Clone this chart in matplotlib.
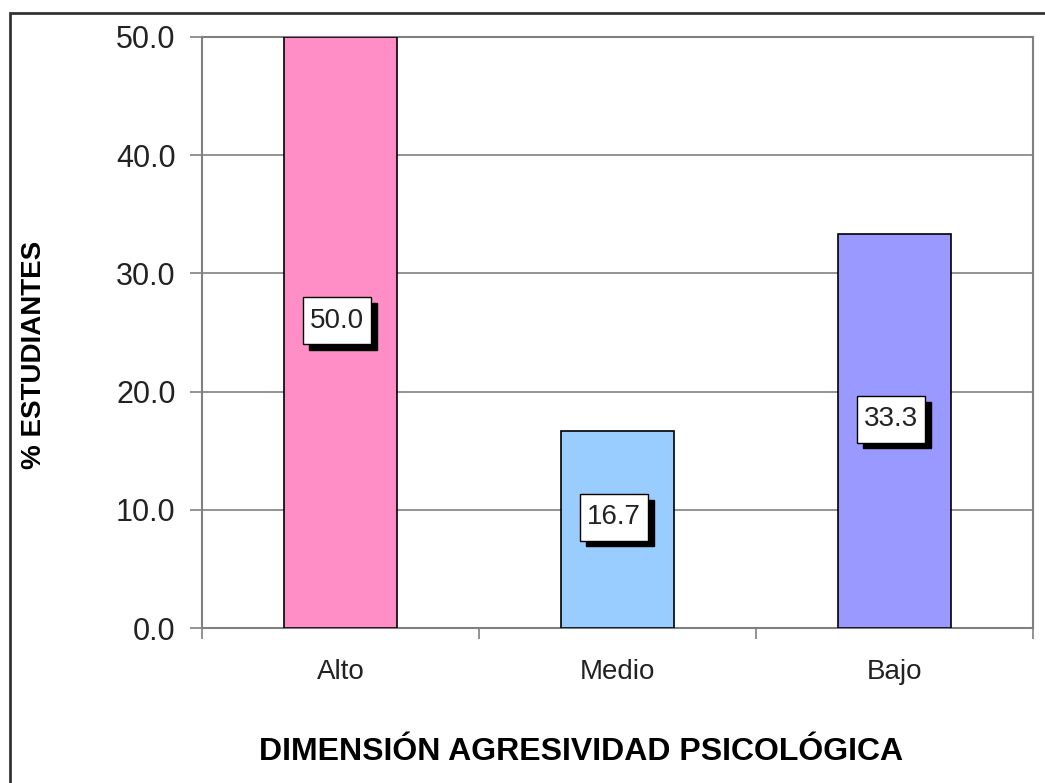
import numpy as np
import matplotlib.pyplot as plt
from matplotlib.patches import Rectangle
from matplotlib.ticker import FixedLocator

categorias = ["Alto", "Medio", "Bajo"]
porcentajes = [50.0, 16.7, 33.3]
colores = ["#FF8EC6", "#99CCFF", "#9999FF"]

plt.rcParams["font.family"] = ["Liberation Sans", "DejaVu Sans"]

fig = plt.figure(figsize=(10.45, 7.83), dpi=100)
ax = fig.add_axes([202 / 1045, 1 - 628 / 783, (1033 - 202) / 1045, (628 - 37) / 783])

# marco exterior del grafico
fig.patches.append(Rectangle((10 / 1045, -0.1), 1.2, 1 - 13 / 783 + 0.1,
                             transform=fig.transFigure, fill=False,
                             edgecolor="#333333", linewidth=2.0))

x = np.arange(len(categorias))
ax.bar(x, porcentajes, width=0.41, color=colores, edgecolor="black",
       linewidth=1.2, zorder=3)

for xi, val in zip(x, porcentajes):
    pos = (xi - 0.012, val / 2 + 1.0)
    caja = dict(boxstyle="square,pad=0.25", mutation_aspect=1.5)
    # sombra
    ax.annotate(f"{val:.1f}", pos, xytext=(4, -4), textcoords="offset points",
                ha="center", va="center", fontsize=20, color="black", zorder=6,
                bbox=dict(caja, fc="black", ec="black"))
    ax.annotate(f"{val:.1f}", pos, ha="center", va="center",
                fontsize=20, color="#222222", zorder=7,
                bbox=dict(caja, fc="white", ec="black", lw=1))

ax.set_xlim(-0.5, 2.5)
ax.set_ylim(0, 50)
ax.set_yticks(np.arange(0, 51, 10))
ax.set_yticklabels([f"{v:.1f}" for v in np.arange(0, 51, 10)], fontsize=22, color="#222222")
ax.yaxis.grid(True, color="#808080", linewidth=1.2, zorder=0)

ax.set_xticks(x)
ax.set_xticklabels(categorias, fontsize=20, color="#222222")
ax.xaxis.set_minor_locator(FixedLocator([-0.5, 0.5, 1.5, 2.5]))
ax.tick_params(axis="x", which="major", length=0, pad=22)
ax.tick_params(axis="x", which="minor", length=8, color="#808080", width=1.2)
ax.tick_params(axis="y", length=9, color="#808080", width=1.2, pad=10)

for s in ax.spines.values():
    s.set_color("#808080")
    s.set_linewidth(1.5)

ax.set_ylabel("% ESTUDIANTES", fontsize=20, fontweight="bold")
ax.yaxis.set_label_coords((47 - 202) / (1033 - 202), (628 - 355) / (628 - 37))
fig.text(581 / 1045, 1 - 752 / 783, "DIMENSIÓN AGRESIVIDAD PSICOLÓGICA",
         ha="center", va="center", fontsize=23, fontweight="bold")

fig.savefig("out.png", dpi=100)
